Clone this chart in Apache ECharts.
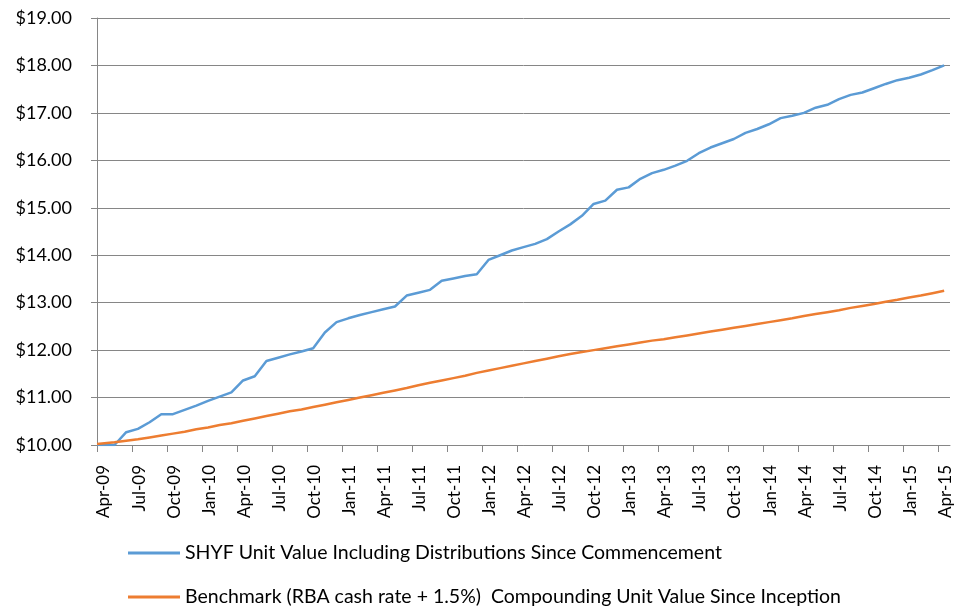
<!DOCTYPE html>
<html>
<head>
<meta charset="utf-8">
<script src="https://cdn.jsdelivr.net/npm/echarts@6/dist/echarts.min.js"></script>
<style>
  html, body { margin: 0; padding: 0; background: #fff; }
  #chart { width: 967px; height: 608px; }
</style>
</head>
<body>
<div id="chart"></div>
<script>
// quarterly tick labels, one every 3 months starting Apr-09
const tickLabels = ['Apr-09', 'Jul-09', 'Oct-09', 'Jan-10', 'Apr-10', 'Jul-10', 'Oct-10', 'Jan-11',
  'Apr-11', 'Jul-11', 'Oct-11', 'Jan-12', 'Apr-12', 'Jul-12', 'Oct-12', 'Jan-13', 'Apr-13',
  'Jul-13', 'Oct-13', 'Jan-14', 'Apr-14', 'Jul-14', 'Oct-14', 'Jan-15', 'Apr-15'];

// unit values, inception point then one per month
const shyf = [10.00,
  10.00, 10.27, 10.34, 10.48, 10.65, 10.65, 10.74, 10.83, 10.93, 11.02, 11.11, 11.36,
  11.45, 11.77, 11.84, 11.91, 11.97, 12.04, 12.37, 12.59, 12.67, 12.74, 12.80, 12.86,
  12.92, 13.15, 13.21, 13.27, 13.46, 13.51, 13.56, 13.60, 13.90, 14.00, 14.10, 14.17,
  14.24, 14.34, 14.50, 14.65, 14.83, 15.08, 15.15, 15.38, 15.43, 15.61, 15.73, 15.80,
  15.89, 15.99, 16.15, 16.27, 16.36, 16.45, 16.58, 16.66, 16.76, 16.89, 16.94, 17.00,
  17.11, 17.17, 17.29, 17.38, 17.43, 17.52, 17.61, 17.69, 17.74, 17.81, 17.90, 18.00];

const benchmark = [10.02,
  10.06, 10.09, 10.12, 10.16, 10.20, 10.24, 10.28, 10.33, 10.37, 10.42, 10.46, 10.51,
  10.56, 10.61, 10.66, 10.71, 10.75, 10.80, 10.85, 10.90, 10.95, 11.00, 11.05, 11.10,
  11.15, 11.20, 11.26, 11.31, 11.36, 11.41, 11.46, 11.52, 11.57, 11.62, 11.67, 11.72,
  11.77, 11.82, 11.87, 11.92, 11.96, 12.00, 12.04, 12.08, 12.12, 12.16, 12.20, 12.23,
  12.27, 12.31, 12.35, 12.39, 12.43, 12.47, 12.51, 12.55, 12.59, 12.63, 12.67, 12.72,
  12.76, 12.80, 12.84, 12.89, 12.93, 12.97, 13.02, 13.06, 13.11, 13.15, 13.20, 13.25];

const seriesNames = ['SHYF Unit Value Including Distributions Since Commencement',
  'Benchmark (RBA cash rate + 1.5%)  Compounding Unit Value Since Inception'];

// months since Apr-09: inception at 0, monthly points mid-month after that
const monthPos = shyf.map((v, i) => (i === 0 ? 0 : i + 0.5));
const tickPos = tickLabels.map((t, i) => i * 3);
// rotated labels sit a little right of their tick in the original
const labelPos = tickPos.map(p => p + 0.6);

const font = 'Lato, "Open Sans", sans-serif';
const gray = '#868686';

// one legend per row so the two entries stack like the original
const legendRow = (name, top) => ({
  orient: 'vertical',
  left: 128,
  top: top,
  padding: 0,
  icon: 'rect',
  itemWidth: 52,
  itemHeight: 3,
  textStyle: { fontFamily: font, fontSize: 19.5, color: '#000' },
  data: [name]
});

var myChart = echarts.init(document.getElementById('chart'));
myChart.setOption({
  animation: false,
  grid: {
    left: 97, right: 17, top: 18, bottom: 163,
    containLabel: false, outerBoundsMode: 'none'
  },
  legend: [legendRow(seriesNames[0], 543), legendRow(seriesNames[1], 587)],
  xAxis: {
    type: 'value',
    min: 0,
    max: 73,
    axisLine: { show: true, lineStyle: { color: gray, width: 1 } },
    axisTick: { show: true, customValues: tickPos, length: 7, lineStyle: { color: gray } },
    splitLine: { show: false },
    axisLabel: {
      customValues: labelPos,
      rotate: 90,
      margin: 20,
      fontFamily: font,
      fontSize: 17,
      color: '#000',
      formatter: v => tickLabels[Math.round(v / 3)]
    }
  },
  yAxis: {
    type: 'value',
    min: 10,
    max: 19,
    interval: 1,
    axisLine: { show: true, lineStyle: { color: gray, width: 1 } },
    axisTick: { show: true, length: 6, lineStyle: { color: gray } },
    splitLine: { show: true, lineStyle: { color: gray, width: 1 } },
    axisLabel: {
      margin: 25,
      fontFamily: font,
      fontSize: 18,
      color: '#000',
      formatter: v => '$' + v.toFixed(2)
    }
  },
  series: [
    {
      name: seriesNames[0],
      type: 'line',
      showSymbol: false,
      color: '#5B9BD5',
      lineStyle: { width: 2.5, color: '#5B9BD5' },
      data: shyf.map((v, i) => [monthPos[i], v])
    },
    {
      name: seriesNames[1],
      type: 'line',
      showSymbol: false,
      color: '#ED7D31',
      lineStyle: { width: 2.5, color: '#ED7D31' },
      data: benchmark.map((v, i) => [monthPos[i], v])
    }
  ]
});
</script>
</body>
</html>
